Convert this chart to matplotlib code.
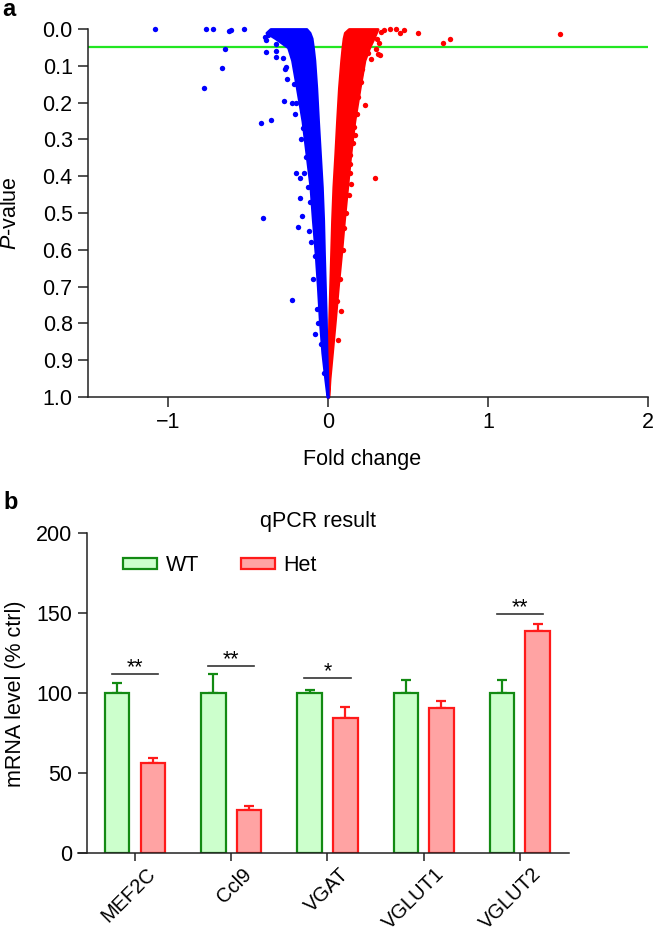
import numpy as np
import matplotlib
matplotlib.use('Agg')
import matplotlib.pyplot as plt
import matplotlib.transforms as mtransforms
from matplotlib.patches import Patch

plt.rcParams['font.family'] = ['Liberation Sans', 'DejaVu Sans']
plt.rcParams['mathtext.fontset'] = 'custom'
plt.rcParams['mathtext.it'] = 'Liberation Sans:italic'
plt.rcParams['mathtext.rm'] = 'Liberation Sans'

# ---- panel a: volcano ----
# dense core of points, outer/inner edges read per P-value level
p_env   = [0.0, 0.01, 0.025, 0.05, 0.085, 0.16, 0.25, 0.34, 0.43, 0.52, 0.61, 0.70, 0.79, 0.88, 0.95, 1.0]
blue_lo = [-0.36, -0.385, -0.33, -0.25, -0.225, -0.195, -0.16, -0.135, -0.11, -0.095, -0.078, -0.064, -0.052, -0.036, -0.018, -0.004]
blue_hi = [-0.135, -0.115, -0.102, -0.094, -0.085, -0.073, -0.062, -0.05, -0.038, -0.03, -0.025, -0.019, -0.013, -0.009, -0.004, -0.001]
red_lo  = [0.13, 0.105, 0.097, 0.09, 0.082, 0.068, 0.056, 0.045, 0.033, 0.025, 0.019, 0.013, 0.007, 0.003, 0.002, 0.001]
red_hi  = [0.31, 0.30, 0.285, 0.258, 0.228, 0.198, 0.165, 0.14, 0.12, 0.10, 0.082, 0.062, 0.044, 0.025, 0.01, 0.003]

# single points outside the core
blue_x = [-1.083, -0.76, -0.719, -0.619, -0.604, -0.525, -0.644, -0.66, -0.777, -0.421, -0.358,
          -0.404, -0.396, -0.375, -0.344, -0.385, -0.385, -0.327, -0.327, -0.323, -0.28, -0.27,
          -0.264, -0.254, -0.275, -0.223, -0.198, -0.156, -0.135, -0.198, -0.177, -0.177, -0.162,
          -0.185, -0.114, -0.225, -0.083, -0.079, -0.041, -0.027, -0.214, -0.207, -0.17, -0.15,
          -0.128, -0.118, -0.105, -0.094, -0.07, -0.062]
blue_p = [0.0, 0.0, 0.0, 0.005, 0.003, 0.0, 0.053, 0.107, 0.161, 0.256, 0.246,
          0.514, 0.021, 0.016, 0.012, 0.03, 0.062, 0.06, 0.075, 0.042, 0.08, 0.11,
          0.103, 0.137, 0.195, 0.2, 0.2, 0.27, 0.348, 0.391, 0.404, 0.459, 0.507,
          0.539, 0.47, 0.737, 0.616, 0.829, 0.857, 0.934, 0.15, 0.23, 0.3, 0.39,
          0.43, 0.55, 0.58, 0.68, 0.76, 0.8]
red_x = [0.329, 0.386, 0.427, 0.448, 0.473, 0.5625, 0.719, 0.765, 1.448, 0.306, 0.317, 0.302,
         0.323, 0.271, 0.25, 0.229, 0.209, 0.198, 0.1875, 0.161, 0.167, 0.136, 0.14, 0.146,
         0.292, 0.084, 0.0625, 0.098, 0.136, 0.348, 0.3125, 0.181, 0.215, 0.18, 0.155,
         0.13, 0.112, 0.094, 0.075, 0.056]
red_p = [0.009, 0.0, 0.0, 0.012, 0.003, 0.012, 0.039, 0.028, 0.014, 0.027, 0.039, 0.055,
         0.071, 0.082, 0.066, 0.207, 0.144, 0.125, 0.184, 0.266, 0.289, 0.366, 0.392, 0.42,
         0.405, 0.765, 0.845, 0.541, 0.343, 0.003, 0.069, 0.171, 0.11, 0.23, 0.31,
         0.45, 0.5, 0.6, 0.68, 0.74]
p_cut = 0.05

# ---- panel b: qPCR ----
genes = ['MEF2C', 'Ccl9', 'VGAT', 'VGLUT1', 'VGLUT2']
wt_mean = [100, 100, 100, 100, 100]
wt_err = [6.3, 12.3, 2.1, 8.3, 8.3]
het_mean = [56.2, 27.3, 84.8, 91.0, 139.0]
het_err = [3.1, 2.5, 6.6, 4.4, 4.6]
sig_text = ['**', '**', '*', '', '**']
sig_y = [112.3, 117.3, 109.4, 0, 149.8]

FS = 15.5
fig = plt.figure(figsize=(6.54, 9.38), dpi=100)

# ================= a =================
ax = fig.add_axes([88/654, 1-397/938, 560/654, 368/938])
ax.axhline(p_cut, color='#22e622', lw=1.6, zorder=1)
ax.fill_betweenx(p_env, red_lo, red_hi, color='red', lw=2, zorder=2, clip_on=False)
ax.scatter(red_x, red_p, s=15, color='red', lw=0, zorder=2, clip_on=False)
ax.fill_betweenx(p_env, blue_lo, blue_hi, color='blue', lw=2, zorder=3, clip_on=False)
ax.scatter(blue_x, blue_p, s=15, color='blue', lw=0, zorder=3, clip_on=False)

ax.set_xlim(-1.5, 2)
ax.set_ylim(1.0, 0.0)
ax.set_xticks([-1, 0, 1, 2])
ax.set_yticks(np.arange(0, 1.01, 0.1))
ax.set_yticklabels(['%.1f' % v for v in np.arange(0, 1.01, 0.1)])
for s in ['top', 'right']:
    ax.spines[s].set_visible(False)
for s in ['left', 'bottom']:
    ax.spines[s].set_linewidth(1.1)
    ax.spines[s].set_color('#222222')
ax.tick_params(labelsize=FS, length=7, width=1.1, color='#222222', pad=4)
ax.set_xlabel('Fold change', fontsize=FS)
ax.xaxis.set_label_coords(0.489, -0.14)
ax.set_ylabel('$\\it{P}$-value', fontsize=FS)
ax.yaxis.set_label_coords(-0.12, 0.5)
fig.text(2/654, 1-10/938, 'a', fontsize=17, fontweight='bold', va='center')

# ================= b =================
ax2 = fig.add_axes([78/654, 1-853.3/938, 491/654, 320/938])
x = np.arange(len(genes))
off, w = 0.185, 0.255
ax2.bar(x - off, wt_mean, w, color='#ccffcc', edgecolor='#138a13', lw=1.6, zorder=2, label='WT')
ax2.bar(x + off, het_mean, w, color='#ffa3a3', edgecolor='#ff1a1a', lw=1.6, zorder=2, label='Het')
ax2.errorbar(x - off, wt_mean, yerr=[np.zeros(len(x)), wt_err], fmt='none', ecolor='#138a13',
             elinewidth=1.6, capsize=3.6, capthick=1.6, zorder=1)
ax2.errorbar(x + off, het_mean, yerr=[np.zeros(len(x)), het_err], fmt='none', ecolor='#ff1a1a',
             elinewidth=1.6, capsize=3.6, capthick=1.6, zorder=1)
for i in range(len(genes)):
    if sig_text[i]:
        ax2.plot([x[i] - 0.24, x[i] + 0.24], [sig_y[i], sig_y[i]], color='#333333', lw=1.2)
        ax2.text(x[i], sig_y[i] + 0.5, sig_text[i], ha='center', va='baseline', fontsize=FS)

ax2.set_xlim(-0.592, 4.51)
ax2.set_ylim(0, 200)
ax2.spines['left'].set_position(('data', -0.5))
for s in ['top', 'right']:
    ax2.spines[s].set_visible(False)
for s in ['left', 'bottom']:
    ax2.spines[s].set_linewidth(1.1)
    ax2.spines[s].set_color('#222222')
ax2.set_yticks([0, 50, 100, 150, 200])
ax2.set_xticks(x, genes, rotation=45, ha='right', va='top', rotation_mode='anchor')
ax2.tick_params(axis='y', labelsize=FS, length=6.5, width=1.1, color='#222222', pad=4)
ax2.tick_params(axis='x', labelsize=14.5, length=6, width=1.1, color='#222222', pad=2)
shift = mtransforms.ScaledTranslation(8/72, 0, fig.dpi_scale_trans)
for lab in ax2.get_xticklabels():
    lab.set_transform(lab.get_transform() + shift)
ax2.set_ylabel('mRNA level (% ctrl)', fontsize=FS)
ax2.yaxis.set_label_coords(-0.106, 0.5)

handles = [Patch(facecolor='#ccffcc', edgecolor='#138a13', lw=1.6),
           Patch(facecolor='#ffa3a3', edgecolor='#ff1a1a', lw=1.6)]
ax2.legend(handles, ['WT', 'Het'], ncol=2, frameon=False, fontsize=FS, loc='upper left',
           bbox_to_anchor=(0.092, 0.932), borderpad=0, borderaxespad=0,
           handlelength=1.58, handleheight=0.46, handletextpad=0.42, columnspacing=1.9)
fig.text(318/654, 1-521.7/938, 'qPCR result', fontsize=FS, ha='center', va='center')
fig.text(3/654, 1-502/938, 'b', fontsize=17, fontweight='bold', va='center')

fig.savefig('out.png', dpi=100)
